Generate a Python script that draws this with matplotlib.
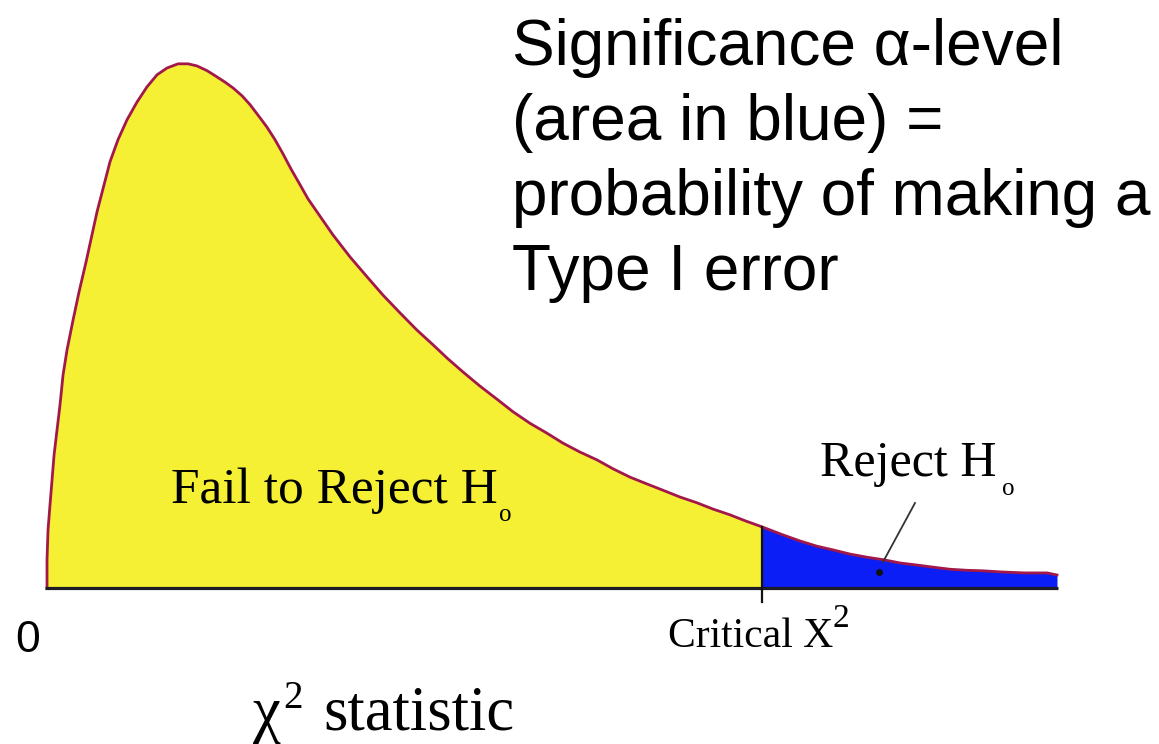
import matplotlib
matplotlib.use("Agg")
import matplotlib.pyplot as plt
import numpy as np

# curve (x = chi-square value, y = density, peak = 1)
chi_x = [0.0, 0.0, 0.02, 0.059, 0.099, 0.139, 0.198, 0.257, 0.317, 0.396,
         0.515, 0.634, 0.772, 0.990, 1.248, 1.406, 1.584, 1.782, 1.980, 2.178,
         2.376, 2.594, 2.792, 2.970, 3.168, 3.366, 3.525, 3.683, 3.861, 4.020,
         4.178, 4.356, 4.515, 4.673, 4.832, 5.010, 5.168, 5.347, 5.663, 6.000,
         6.337, 6.653, 6.990, 7.327, 7.644, 7.941, 8.238, 8.574, 8.911, 9.228,
         9.564, 9.901, 10.218, 10.554, 10.891, 11.208, 11.545, 11.881, 12.198,
         12.535, 12.871, 13.188, 13.525, 13.842, 14.16, 14.535, 14.911, 15.248,
         15.564, 15.901, 16.238, 16.574, 16.891, 17.228, 17.545, 17.881, 18.218,
         18.535, 18.871, 19.347, 19.802, 20.0]
density = [0.0, 0.054, 0.111, 0.159, 0.206, 0.254, 0.302, 0.350, 0.407, 0.455,
           0.512, 0.566, 0.623, 0.719, 0.815, 0.857, 0.895, 0.929, 0.958, 0.981,
           0.994, 1.002, 1.002, 0.998, 0.989, 0.977, 0.967, 0.956, 0.941, 0.924,
           0.904, 0.881, 0.857, 0.830, 0.801, 0.771, 0.744, 0.719, 0.675, 0.633,
           0.595, 0.560, 0.526, 0.493, 0.465, 0.438, 0.413, 0.386, 0.361, 0.337,
           0.315, 0.296, 0.277, 0.260, 0.245, 0.228, 0.212, 0.199, 0.187,
           0.174, 0.163, 0.151, 0.140, 0.128, 0.117, 0.103, 0.090, 0.080,
           0.073, 0.065, 0.059, 0.054, 0.048, 0.044, 0.040, 0.036, 0.034,
           0.033, 0.031, 0.029, 0.029, 0.025]
critical = 14.16

big_lines = ["Significance \u03b1-level", "(area in blue) =",
             "probability of making a", "Type I error"]

x = np.array(chi_x)
y = np.array(density)

fig = plt.figure(figsize=(11.59, 7.44), dpi=100)
ax = fig.add_axes([0, 0, 1, 1])
ax.set_xlim(-0.931, 22.02)
ax.set_ylim(-0.298, 1.124)
ax.axis("off")

ax.fill_between(x, y, where=x <= critical, color="#f5f033", lw=0)
ax.fill_between(x, y, where=x >= critical, color="#0a1ef5", lw=0)
ax.plot(x, y, color="#a3184a", lw=2.0, solid_joinstyle="round")
ax.plot([x[0] - 0.04, x[-1] + 0.02], [0, 0], color="#1c1c26", lw=2.3,
        solid_capstyle="butt")
ax.plot([critical, critical], [-0.027, y[x == critical][0]], color="#111111", lw=1.6)

# helper: pixel position in the 1159x744 picture -> axes fraction
def fx(px):
    return px / 1159.0

def fy(py):
    return 1 - py / 744.0

sans = "Liberation Sans"
serif = "Liberation Serif"

for i, line in enumerate(big_lines):
    ax.text(fx(512), fy(65 + 75 * i), line, transform=ax.transAxes,
            fontsize=46, family=sans, va="baseline", ha="left")

ax.text(fx(171), fy(503), "Fail to Reject H", transform=ax.transAxes,
        fontsize=37, family=serif, va="baseline")
ax.text(fx(499), fy(521), "o", transform=ax.transAxes,
        fontsize=18, family=serif, va="baseline")

ax.text(fx(820), fy(476), "Reject H", transform=ax.transAxes,
        fontsize=36, family=serif, va="baseline")
ax.text(fx(1002), fy(495), "o", transform=ax.transAxes,
        fontsize=18, family=serif, va="baseline")
ax.plot([fx(915), fx(883)], [fy(503), fy(562)], transform=ax.transAxes,
        color="#333333", lw=1.3)
ax.plot([fx(879)], [fy(572)], transform=ax.transAxes, marker="o",
        ms=4, color="#111111")

ax.text(fx(668), fy(647), "Critical X", transform=ax.transAxes,
        fontsize=30, family=serif, va="baseline")
ax.text(fx(833), fy(627), "2", transform=ax.transAxes,
        fontsize=24, family=serif, va="baseline")

ax.text(fx(15), fy(652), "0", transform=ax.transAxes,
        fontsize=32, family=sans, va="baseline")

ax.text(fx(253), fy(730), "\u03c7", transform=ax.transAxes,
        fontsize=45, family=serif, va="baseline")
ax.text(fx(283), fy(708), "2", transform=ax.transAxes,
        fontsize=28, family=serif, va="baseline")
ax.text(fx(323), fy(730), "statistic", transform=ax.transAxes,
        fontsize=45, family=serif, va="baseline")

fig.savefig("out.png", dpi=100)
